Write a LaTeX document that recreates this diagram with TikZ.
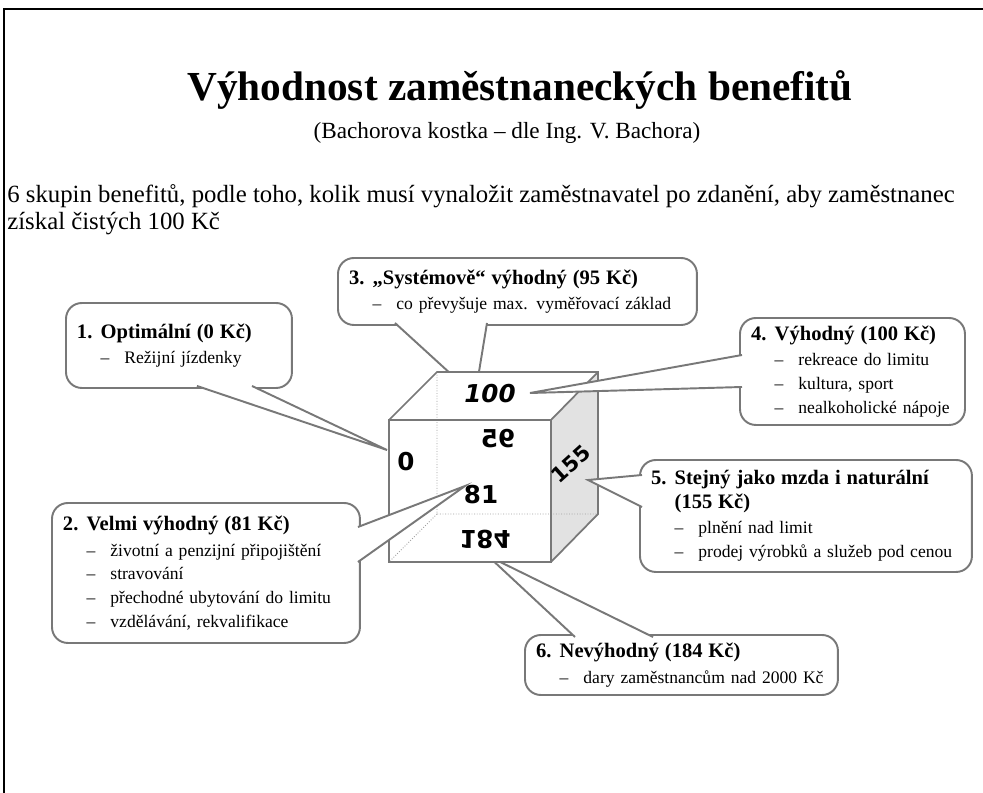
\documentclass[tikz,border=0pt]{standalone}
\usepackage{fontspec}
\setmainfont{Liberation Serif}
\newfontfamily\cubefont{DejaVu Sans}
\usepackage{tikz}
\usetikzlibrary{calc}

\definecolor{linegray}{RGB}{120,120,120}
\definecolor{facegray}{RGB}{226,226,226}

\newcommand{\ctit}{\fontsize{11.7}{14}\selectfont\bfseries}
\newcommand{\cnum}[1]{\makebox[13.5pt][l]{#1}}
\newcommand{\itm}[1]{\hspace*{13.5pt}\makebox[13.5pt][l]{–}#1}

\tikzset{
	callbox/.style={draw=linegray, line width=1.1pt, fill=white, rounded corners=9pt, anchor=north west, outer sep=0pt, inner xsep=0.22cm, inner ysep=0pt, align=left, font=\fontsize{10}{13.5}\selectfont},
	wedge/.style={draw=linegray, line width=1.1pt, fill=white},
	cubeedge/.style={draw=linegray, line width=1pt},
	hiddenedge/.style={draw=linegray!70, line width=0.5pt, densely dotted},
	cubenum/.style={font=\cubefont\bfseries\fontsize{14}{14}\selectfont, inner sep=0pt}
}

\begin{document}
\begin{tikzpicture}[x=0.02cm, y=-0.02cm]
	\useasboundingbox (0,0) rectangle (983,793);
	\draw[line width=1.3pt] (983,9) -- (4,9) -- (4,793);
	
	\node[anchor=base, font=\bfseries\fontsize{23.5}{28}\selectfont] (title) at (520,101) {Výhodnost zaměstnaneckých benefitů};
	\node[anchor=base, font=\fontsize{13.2}{16}\selectfont] (subtitle) at (507,139) {(Bachorova kostka – dle Ing. V. Bachora)};
	\node[anchor=base west, inner sep=0pt, font=\fontsize{14.1}{16}\selectfont] (intro1) at (7,203) {6 skupin benefitů, podle toho, kolik musí vynaložit zaměstnavatel po zdanění, aby zaměstnanec};
	\node[anchor=base west, inner sep=0pt, font=\fontsize{14.1}{16}\selectfont] (intro2) at (7,230) {získal čistých 100 Kč};
	
	\coordinate (t1) at (387,450);
	\coordinate (t2) at (465,486);
	\coordinate (t3) at (475,396);
	\coordinate (t4) at (530,393);
	\coordinate (t5) at (588,480);
	\coordinate (t6) at (488,556);
	
	\node[callbox, minimum width=4.52cm, text width=4.08cm, minimum height=1.70cm] (c1) at (66,303) {{\ctit\cnum{1.}Optimální (0 Kč)}\\[1pt]\itm{Režijní jízdenky}};
	\filldraw[wedge] ($(c1.south west)+(131,-2)$) -- (t1) -- ($(c1.south west)+(186,-2)$);
	
	\node[callbox, minimum width=7.18cm, text width=6.74cm, minimum height=1.34cm] (c3) at (338,258) {{\ctit\cnum{3.}„Systémově“ výhodný (95 Kč)}\\[1pt]\itm{co převyšuje max. vyměřovací základ}};
	\filldraw[wedge] ($(c3.south west)+(57,-2)$) -- (t3) -- ($(c3.south west)+(149,-2)$);
	
	\node[callbox, minimum width=6.26cm, text width=5.82cm, minimum height=1.20cm] (c6) at (525,635) {{\ctit\cnum{6.}Nevýhodný (184 Kč)}\\[1pt]\itm{dary zaměstnancům nad 2000 Kč}};
	\filldraw[wedge] ($(c6.north west)+(50,2)$) -- (t6) -- ($(c6.north west)+(128,2)$);
	
	\coordinate (ftl) at (389,420);
	\coordinate (ftr) at (551,420);
	\coordinate (fbr) at (551,562);
	\coordinate (fbl) at (389,562);
	\coordinate (btl) at (437,372);
	\coordinate (btr) at (598,372);
	\coordinate (bbr) at (598,514);
	\coordinate (bbl) at (437,514);
	\fill[white] (ftl) -- (btl) -- (btr) -- (bbr) -- (fbr) -- (fbl) -- cycle;
	\fill[facegray] (ftr) -- (btr) -- (bbr) -- (fbr) -- cycle;
	\draw[hiddenedge] (btl) -- (bbl) -- (bbr) (bbl) -- (fbl);
	\draw[cubeedge] (ftl) rectangle (fbr) (ftl) -- (btl) -- (btr) -- (bbr) -- (fbr) (btr) -- (ftr);
	
	\node[callbox, minimum width=6.16cm, text width=5.72cm, minimum height=2.80cm] (c2) at (52,503) {{\ctit\cnum{2.}Velmi výhodný (81 Kč)}\\[1pt]\itm{životní a penzijní připojištění}\\\itm{stravování}\\\itm{přechodné ubytování do limitu}\\\itm{vzdělávání, rekvalifikace}};
	\filldraw[wedge] ($(c2.north east)+(-2,24)$) -- (t2) -- ($(c2.north east)+(-2,59)$);
	
	\node[callbox, minimum width=4.50cm, text width=4.06cm, minimum height=2.14cm] (c4) at (740,318) {{\ctit\cnum{4.}Výhodný (100 Kč)}\\[1pt]\itm{rekreace do limitu}\\\itm{kultura, sport}\\\itm{nealkoholické nápoje}};
	\filldraw[wedge] ($(c4.north west)+(2,37)$) -- (t4) -- ($(c4.north west)+(2,69)$);
	
	\node[callbox, minimum width=6.64cm, text width=6.20cm, minimum height=2.24cm] (c5) at (640,460) {{\ctit\cnum{5.}Stejný jako mzda i naturální\\\hspace*{13.5pt}(155 Kč)}\\[1pt]\itm{plnění nad limit}\\\itm{prodej výrobků a služeb pod cenou}};
	\filldraw[wedge] ($(c5.north west)+(2,15)$) -- (t5) -- ($(c5.north west)+(2,47)$);
	
	\node[cubenum] (n0) at (406,462) {0};
	\node[cubenum] (n95) at (498,439) [xscale=-1] {95};
	\node[cubenum] (n81) at (481,495) {81};
	\node[cubenum] (n184) at (485,539) [yscale=-1] {184};
	\node[cubenum, font=\cubefont\bfseries\fontsize{12}{12}\selectfont] (n155) at (571,464) [rotate=42] {155};
	\node[cubenum] (n100) at (490,394) {\itshape 100};
\end{tikzpicture}
\end{document}
